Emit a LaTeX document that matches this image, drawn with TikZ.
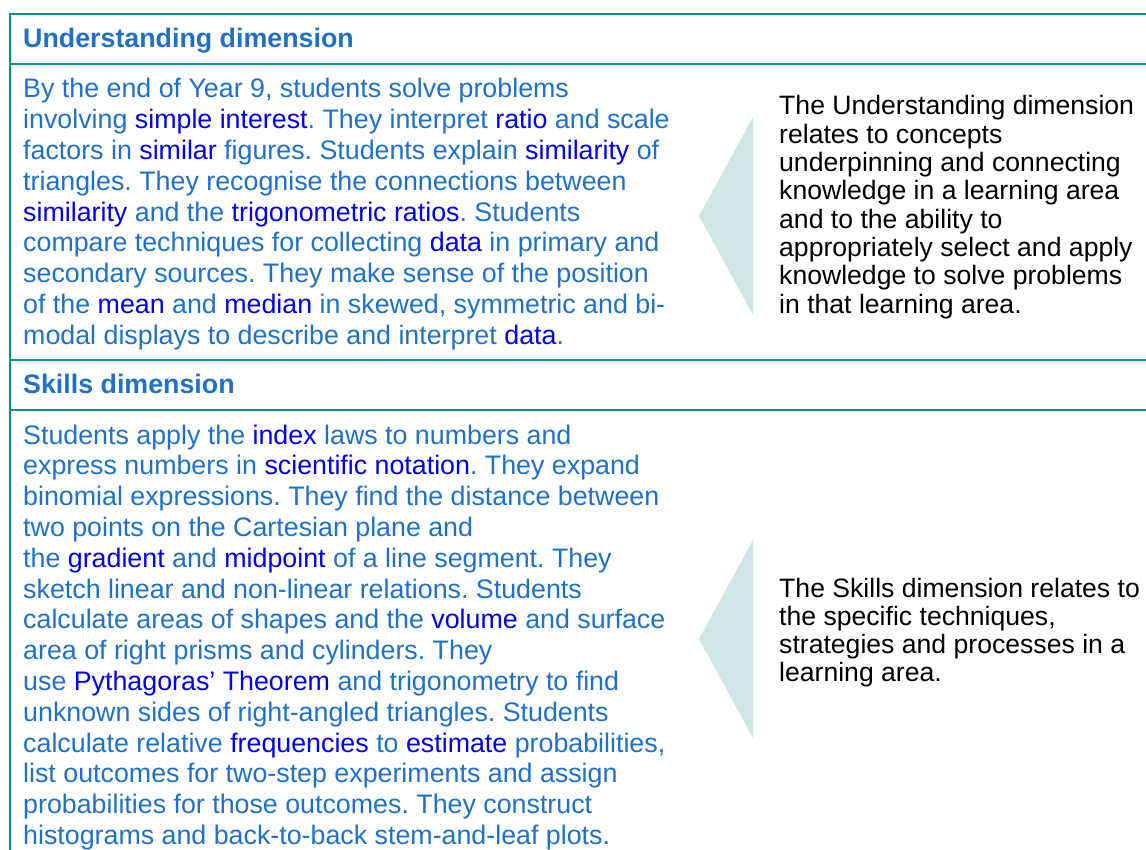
\documentclass[tikz,border=0pt]{standalone}
\usepackage{fontspec}
\setmainfont{Liberation Sans}
\usepackage{xcolor}
\frenchspacing
\definecolor{teal1}{RGB}{0,148,136}
\definecolor{bodyblue}{RGB}{31,113,200}
\definecolor{gloss}{RGB}{0,0,235}
\definecolor{trifill}{RGB}{207,230,230}
\newcommand{\gl}[1]{\textcolor{gloss}{#1}}
\newcommand{\leftlines}[1]{\vtop{\baselineskip=30.8pt\lineskiplimit=-20pt #1}}
\newcommand{\rightlines}[1]{\vtop{\baselineskip=28.3pt\lineskiplimit=-20pt #1}}
\tikzset{
  rule/.style={draw=teal1, line width=2pt},
  tri/.style={fill=trifill, draw=none},
  lefttext/.style={anchor=base west, inner sep=0pt, text=bodyblue, font=\fontsize{26.8pt}{30.8pt}\selectfont\frenchspacing},
  head/.style={lefttext, font=\fontsize{26.8pt}{30.8pt}\selectfont\bfseries},
  righttext/.style={anchor=base west, inner sep=0pt, text=black, font=\fontsize{26.6pt}{28.3pt}\selectfont\frenchspacing}
}
\begin{document}
\begin{tikzpicture}[x=1pt,y=-1pt]
\path[use as bounding box] (0,0) rectangle (1146,850);
% table rules
\draw[rule] (10,14) -- (1146,14);
\draw[rule] (10,64.5) -- (1146,64.5);
\draw[rule] (10,360) -- (1146,360);
\draw[rule] (10,410) -- (1146,410);
\draw[rule] (10,13) -- (10,850);
% pointers
\fill[tri] (753,117) -- (699,216) -- (753,315) -- cycle;
\fill[tri] (753,540) -- (699,639) -- (753,738) -- cycle;
% headings
\node[head] (h1) at (23,48) {Understanding dimension};
\node[head] (h2) at (23,393) {Skills dimension};
% body left
\node[lefttext] (u) at (23,98) {\leftlines{%
\hbox{By the end of Year 9, students solve problems}
\hbox{involving \gl{simple interest}. They interpret \gl{ratio} and scale}
\hbox{factors in \gl{similar} figures. Students explain \gl{similarity} of}
\hbox{triangles. They recognise the connections between}
\hbox{\gl{similarity} and the \gl{trigonometric ratios}. Students}
\hbox{compare techniques for collecting \gl{data} in primary and}
\hbox{secondary sources. They make sense of the position}
\hbox{of the \gl{mean} and \gl{median} in skewed, symmetric and bi-}
\hbox{modal displays to describe and interpret \gl{data}.}}};
\node[lefttext] (s) at (23,444) {\leftlines{%
\hbox{Students apply the \gl{index} laws to numbers and}
\hbox{express numbers in \gl{scientific notation}. They expand}
\hbox{binomial expressions. They find the distance between}
\hbox{two points on the Cartesian plane and}
\hbox{the \gl{gradient} and \gl{midpoint} of a line segment. They}
\hbox{sketch linear and non-linear relations. Students}
\hbox{calculate areas of shapes and the \gl{volume} and surface}
\hbox{area of right prisms and cylinders. They}
\hbox{use \gl{Pythagoras’ Theorem} and trigonometry to find}
\hbox{unknown sides of right-angled triangles. Students}
\hbox{calculate relative \gl{frequencies} to \gl{estimate} probabilities,}
\hbox{list outcomes for two-step experiments and assign}
\hbox{probabilities for those outcomes. They construct}
\hbox{histograms and back-to-back stem-and-leaf plots.}}};
% right explanations
\node[righttext] (ru) at (779,115) {\rightlines{%
\hbox{The Understanding dimension}
\hbox{relates to concepts}
\hbox{underpinning and connecting}
\hbox{knowledge in a learning area}
\hbox{and to the ability to}
\hbox{appropriately select and apply}
\hbox{knowledge to solve problems}
\hbox{in that learning area.}}};
\node[righttext] (rs) at (779,597) {\rightlines{%
\hbox{The Skills dimension relates to}
\hbox{the specific techniques,}
\hbox{strategies and processes in a}
\hbox{learning area.}}};
\end{tikzpicture}
\end{document}
